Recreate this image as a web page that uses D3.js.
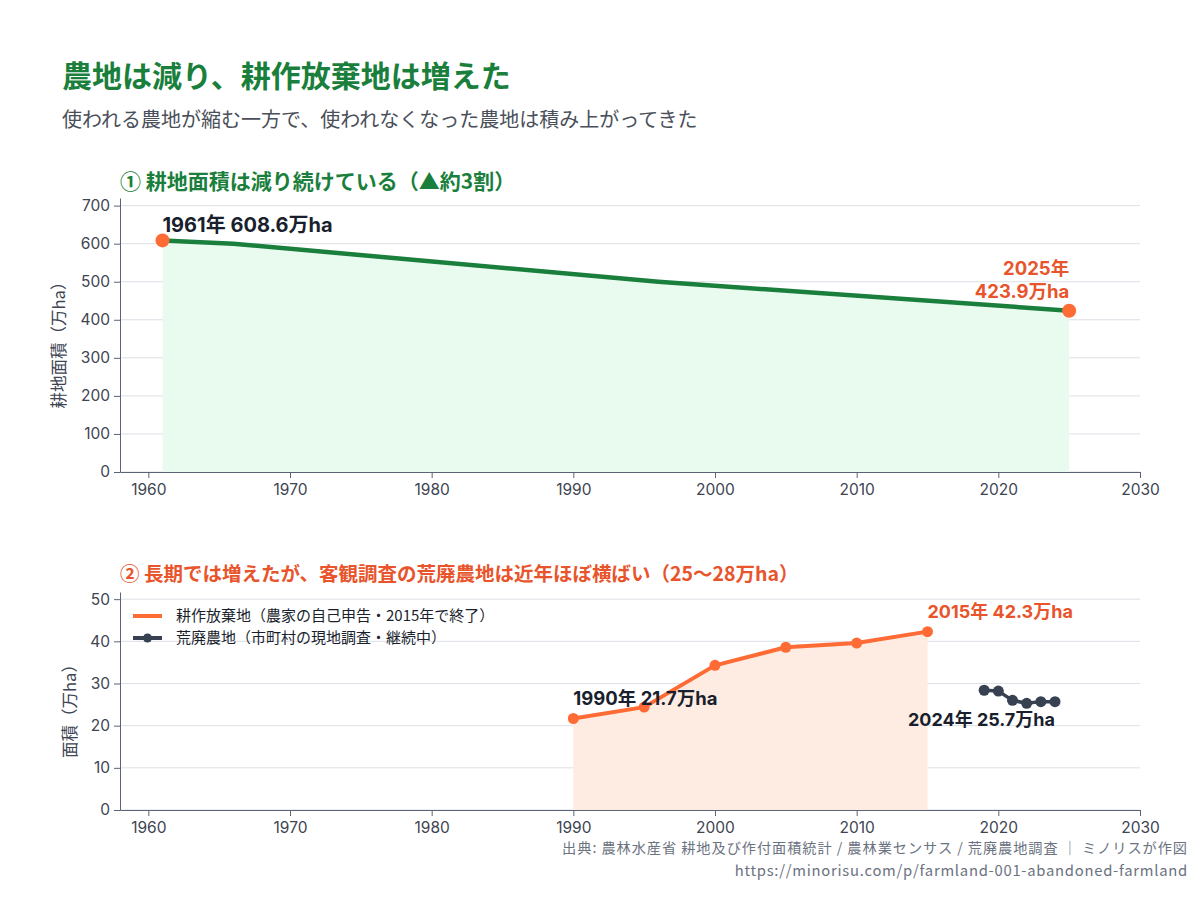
<!DOCTYPE html>
<html><head><meta charset="utf-8">
<script src="https://cdn.jsdelivr.net/npm/d3@7"></script>
<style>
body{margin:0;background:#fff;}
svg{font-family:Inter,"Noto Sans CJK JP",sans-serif;}
</style></head>
<body><svg id="c" width="1200" height="900"></svg>
<script>
// ---- data ----
const farmYears = [1961, 1966, 1996, 2025];
const farmArea = [608.6, 600.0, 500.0, 423.9];
const abandonYears = [1990, 1995, 2000, 2005, 2010, 2015];
const abandonArea = [21.7, 24.4, 34.3, 38.6, 39.6, 42.3];
const desolateYears = [2019, 2020, 2021, 2022, 2023, 2024];
const desolateArea = [28.4, 28.2, 26.0, 25.3, 25.7, 25.7];
const xTicks = [1960, 1970, 1980, 1990, 2000, 2010, 2020, 2030];
const yTicksTop = [0, 100, 200, 300, 400, 500, 600, 700];
const yTicksBottom = [0, 10, 20, 30, 40, 50];

const svg = d3.select("#c");
const green = "#1a7f3c", orange = "#ff6b35", orangeText = "#e8542b", dark = "#374151", ink = "#1a1f2e";
const axisColor = "#5b6474", gridColor = "#dcdfe5", tickText = "#3d4452";
const jp = '"Noto Sans CJK JP",sans-serif';

svg.append("text").attr("x", 62).attr("y", 87).attr("font-size", 30).attr("font-weight", 700)
  .attr("fill", green).attr("font-family", jp).text("農地は減り、耕作放棄地は増えた");
svg.append("text").attr("x", 62).attr("y", 127).attr("font-size", 20).attr("fill", "#4a4f5a")
  .attr("font-family", jp).text("使われる農地が縮む一方で、使われなくなった農地は積み上がってきた");

const x = d3.scaleLinear().domain([1958, 2030]).range([120, 1140]);

function panel(y0, y1, domainMax, ticks, ylabel, labelX, labelY) {
  const y = d3.scaleLinear().domain([0, domainMax]).range([y1, y0]);
  const g = svg.append("g");
  g.selectAll("line.grid").data(ticks).join("line")
    .attr("x1", 120).attr("x2", 1140).attr("y1", d => y(d)).attr("y2", d => y(d))
    .attr("stroke", gridColor).attr("stroke-width", 1);
  const ax = g.append("g").attr("transform", `translate(0,${y1})`)
    .call(d3.axisBottom(x).tickValues(xTicks).tickFormat(d3.format("d")).tickSizeOuter(0).tickPadding(6));
  const ay = g.append("g").attr("transform", `translate(120,0)`)
    .call(d3.axisLeft(y).tickValues(ticks).tickSizeOuter(0).tickPadding(4));
  [ax, ay].forEach(a => {
    a.selectAll("path,line").attr("stroke", axisColor);
    a.selectAll("text").attr("font-size", 15.5).attr("fill", tickText).attr("font-family", "Inter,sans-serif");
  });
  ax.select("path").attr("stroke-width", 1.2);
  g.append("text").attr("transform", `translate(${labelX},${labelY}) rotate(-90)`)
    .attr("text-anchor", "middle").attr("font-size", 16.5).attr("fill", tickText)
    .attr("font-family", jp).text(ylabel);
  return {g, y, ax, ay};
}

// ---- panel 1 ----
svg.append("text").attr("x", 120).attr("y", 189).attr("font-size", 21).attr("font-weight", 700)
  .attr("fill", green).attr("font-family", jp).text("① 耕地面積は減り続けている（▲約3割）");
const p1 = panel(198, 472, 720, yTicksTop, "耕地面積（万ha）", 65, 341);
const farm = farmYears.map((yr, i) => ({x: yr, v: farmArea[i]}));
p1.g.insert("path", "g").datum(farm)
  .attr("d", d3.area().x(d => x(d.x)).y0(p1.y(0)).y1(d => p1.y(d.v)))
  .attr("fill", "#e9fbef");
p1.g.selectAll("g").raise();
p1.g.append("path").datum(farm)
  .attr("d", d3.line().x(d => x(d.x)).y(d => p1.y(d.v)))
  .attr("fill", "none").attr("stroke", green).attr("stroke-width", 4.5).attr("stroke-linejoin", "round");
[farm[0], farm[farm.length - 1]].forEach(d => {
  p1.g.append("circle").attr("cx", x(d.x)).attr("cy", p1.y(d.v)).attr("r", 7).attr("fill", orange);
});
p1.g.append("text").attr("x", x(farm[0].x)).attr("y", 232).attr("font-size", 20).attr("font-weight", 700)
  .attr("fill", ink).text(`${farm[0].x}年 ${farm[0].v}万ha`);
const last = farm[farm.length - 1];
p1.g.append("text").attr("x", x(last.x)).attr("y", 275).attr("text-anchor", "end").attr("font-size", 18.5)
  .attr("font-weight", 700).attr("fill", orangeText).text(`${last.x}年`);
p1.g.append("text").attr("x", x(last.x)).attr("y", 298).attr("text-anchor", "end").attr("font-size", 18.5)
  .attr("font-weight", 700).attr("fill", orangeText).text(`${last.v}万ha`);

// ---- panel 2 ----
svg.append("text").attr("x", 120).attr("y", 581).attr("font-size", 19.5).attr("font-weight", 700)
  .attr("fill", orangeText).attr("font-family", jp).text("② 長期では増えたが、客観調査の荒廃農地は近年ほぼ横ばい（25〜28万ha）");
const p2 = panel(592, 810, 51.7, yTicksBottom, "面積（万ha）", 76, 707);
const ab = abandonYears.map((yr, i) => ({x: yr, v: abandonArea[i]}));
const de = desolateYears.map((yr, i) => ({x: yr, v: desolateArea[i]}));
p2.g.insert("path", "g").datum(ab)
  .attr("d", d3.area().x(d => x(d.x)).y0(p2.y(0)).y1(d => p2.y(d.v)))
  .attr("fill", "#feece3");
p2.g.selectAll("g").raise();
p2.g.append("path").datum(ab).attr("d", d3.line().x(d => x(d.x)).y(d => p2.y(d.v)))
  .attr("fill", "none").attr("stroke", orange).attr("stroke-width", 4).attr("stroke-linejoin", "round");
p2.g.selectAll("circle.ab").data(ab).join("circle").attr("cx", d => x(d.x)).attr("cy", d => p2.y(d.v))
  .attr("r", 5.5).attr("fill", orange);
p2.g.append("path").datum(de).attr("d", d3.line().x(d => x(d.x)).y(d => p2.y(d.v)))
  .attr("fill", "none").attr("stroke", dark).attr("stroke-width", 3.5).attr("stroke-linejoin", "round");
p2.g.selectAll("circle.de").data(de).join("circle").attr("cx", d => x(d.x)).attr("cy", d => p2.y(d.v))
  .attr("r", 5.5).attr("fill", dark);

p2.g.append("text").attr("x", x(ab[0].x)).attr("y", 705).attr("font-size", 18.5).attr("font-weight", 700)
  .attr("fill", ink).text(`${ab[0].x}年 ${ab[0].v}万ha`);
const abl = ab[ab.length - 1];
p2.g.append("text").attr("x", x(abl.x)).attr("y", 618).attr("font-size", 18).attr("font-weight", 700)
  .attr("fill", orangeText).text(`${abl.x}年 ${abl.v}万ha`);
const del = de[de.length - 1];
p2.g.append("text").attr("x", x(del.x)).attr("y", 726).attr("text-anchor", "end").attr("font-size", 18).attr("font-weight", 700)
  .attr("fill", ink).text(`${del.x}年 ${del.v}万ha`);

// legend
const lg = svg.append("g").attr("font-family", jp);
lg.append("line").attr("x1", 133).attr("x2", 162).attr("y1", 616).attr("y2", 616).attr("stroke", orange).attr("stroke-width", 4);
lg.append("text").attr("x", 176).attr("y", 621).attr("font-size", 15).attr("fill", ink).text("耕作放棄地（農家の自己申告・2015年で終了）");
lg.append("line").attr("x1", 133).attr("x2", 162).attr("y1", 638).attr("y2", 638).attr("stroke", dark).attr("stroke-width", 4);
lg.append("circle").attr("cx", 147.5).attr("cy", 638).attr("r", 4.5).attr("fill", dark);
lg.append("text").attr("x", 176).attr("y", 643).attr("font-size", 15).attr("fill", ink).text("荒廃農地（市町村の現地調査・継続中）");

// footer
svg.append("text").attr("x", 1188).attr("y", 853).attr("text-anchor", "end").attr("font-size", 14.2)
  .attr("letter-spacing", 0.95).attr("fill", "#6b7280")
  .attr("font-family", jp).text("出典: 農林水産省 耕地及び作付面積統計 / 農林業センサス / 荒廃農地調査 ｜ ミノリスが作図");
svg.append("text").attr("x", 1188).attr("y", 876).attr("text-anchor", "end").attr("font-size", 14.8)
  .attr("letter-spacing", 0.75).attr("fill", "#6b7280")
  .attr("font-family", jp).text("https://minorisu.com/p/farmland-001-abandoned-farmland");
</script></body></html>
